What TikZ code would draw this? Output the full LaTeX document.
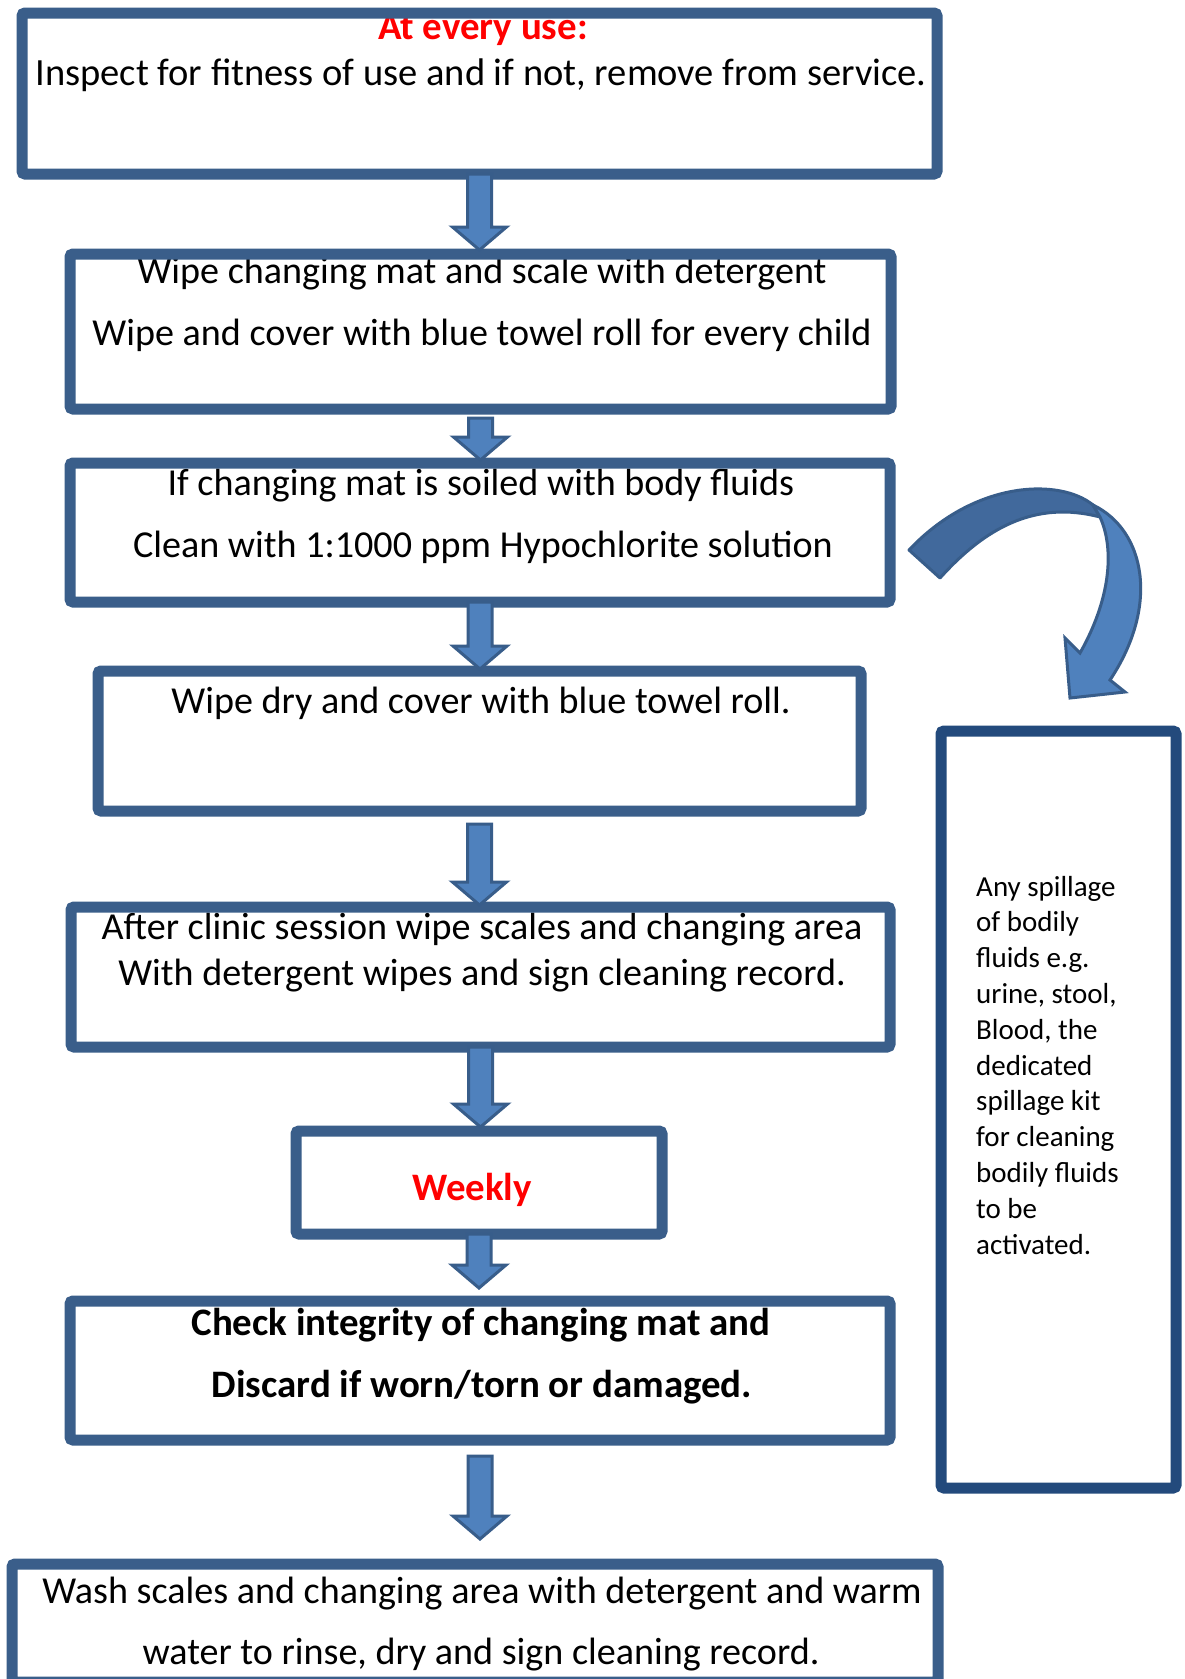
\documentclass[tikz,border=0pt]{standalone}
\usepackage{fontspec}
\setmainfont{Carlito}
\usetikzlibrary{calc}
\definecolor{boxcol}{HTML}{3A5E8A}
\definecolor{navy}{HTML}{234A7C}
\definecolor{arrfill}{HTML}{4F81BD}
\definecolor{arrdraw}{HTML}{385D8A}
\definecolor{arrdark}{HTML}{41699C}
\definecolor{txtred}{HTML}{FF0000}
\tikzset{
  flowbox/.style={draw=boxcol, line width=11pt, rounded corners=3pt, inner sep=0pt, outer sep=0pt, anchor=north west},
  sidebox/.style={flowbox, draw=navy},
  txt/.style={anchor=base, inner sep=0pt, font=\fontsize{38.1}{44}\selectfont},
  txtbold/.style={anchor=base, inner sep=0pt, font=\fontsize{38.9}{44}\selectfont\bfseries},
  txttop/.style={anchor=base, inner sep=0pt, font=\fontsize{38.5}{44}\selectfont},
  sidetxt/.style={anchor=base west, inner sep=0pt, font=\fontsize{29}{35}\selectfont},
  blockarrow/.style={fill=arrfill, draw=arrdraw, line width=3pt, line join=miter},
}
\newcommand\blockarr[4]{%
  \path[blockarrow] let \p1=(#1), \p2=(#2) in
    (\x1-12pt,\y1-#3) -- (\x1+12pt,\y1-#3) -- (\x1+12pt,\y2+#4+23pt) -- (\x1+27pt,\y2+#4+23pt)
    -- (\x1,\y2+#4) -- (\x1-27pt,\y2+#4+23pt) -- (\x1-12pt,\y2+#4+23pt) -- cycle;}
\begin{document}
\begin{tikzpicture}[x=1pt,y=1pt]
\useasboundingbox (0,0) rectangle (1184,-1679);
\fill[white] (0,0) rectangle (1184,-1679);
% texts
\node[txtbold, text=txtred] (t1a) at (483,-39) {At every use:};
\node[txttop] (t1b) at (481,-85) {Inspect for fitness of use and if not, remove from service.};
\node[txt] (t2a) at (482,-283) {Wipe changing mat and scale with detergent};
\node[txt] (t2b) at (482,-345) {Wipe and cover with blue towel roll for every child};
\node[txt] (t3a) at (481,-495) {If changing mat is soiled with body fluids};
\node[txt] (t3b) at (483,-557) {Clean with 1:1000 ppm Hypochlorite solution};
\node[txt] (t4) at (481,-713) {Wipe dry and cover with blue towel roll.};
\node[txt] (t5a) at (482,-939) {After clinic session wipe scales and changing area};
\node[txt] (t5b) at (482,-985) {With detergent wipes and sign cleaning record.};
\node[txtbold, text=txtred] (t6) at (472,-1200) {Weekly};
\node[txtbold] (t7a) at (481,-1335) {Check integrity of changing mat and};
\node[txtbold] (t7b) at (482,-1397) {Discard if worn/torn or damaged.};
\node[txt] (t8a) at (482,-1603) {Wash scales and changing area with detergent and warm};
\node[txt] (t8b) at (481,-1664) {water to rinse, dry and sign cleaning record.};
\foreach \t [count=\i from 0] in {Any spillage, of bodily, fluids e.g., {urine, stool,}, {Blood, the}, dedicated, spillage kit, for cleaning, bodily fluids, to be, activated.}
  \node[sidetxt] (s\i) at (976,-896-35.8*\i) {\t};
% boxes
\node[flowbox, minimum width=915, minimum height=161] (b1) at (22,-13) {};
\node[flowbox, minimum width=821, minimum height=155] (b2) at (70,-254) {};
\node[flowbox, minimum width=820, minimum height=139] (b3) at (70,-463) {};
\node[flowbox, minimum width=763, minimum height=140] (b4) at (98,-671) {};
\node[flowbox, minimum width=819, minimum height=140] (b5) at (71,-907) {};
\node[flowbox, minimum width=366, minimum height=103] (b6) at (296,-1131) {};
\node[flowbox, minimum width=820, minimum height=139] (b7) at (70,-1301) {};
\node[flowbox, minimum width=926, minimum height=118] (b8) at (12,-1564) {};
\node[sidebox, minimum width=235, minimum height=757] (side) at (941,-731) {};
% straight block arrows
\blockarr{b1.south}{b2.north}{0pt}{4pt}
\blockarr{b2.south}{b3.north}{9pt}{3pt}
\blockarr{b3.south}{b4.north}{0pt}{2pt}
\blockarr{b4.south}{b5.north}{13pt}{2pt}
\blockarr{b5.south}{b6.north}{0pt}{4pt}
\blockarr{b6.south}{b7.north}{0pt}{13pt}
\blockarr{b7.south}{b8.north}{16pt}{25pt}
% curved arrow from b3 towards side box
\path[fill=arrdark, draw=arrdraw, line width=3pt, line join=round]
  (909,-550) -- (940,-578) .. controls (985,-528) and (1035,-500) .. (1100,-517)
  -- (1093,-505) .. controls (1060,-478) and (975,-480) .. (909,-550) -- cycle;
\path[fill=arrfill, draw=arrdraw, line width=3pt, line join=miter]
  (1093,-505) .. controls (1145,-530) and (1160,-605) .. (1110,-680)
  -- (1125,-692) -- (1070,-698) -- (1065,-638) -- (1080,-653)
  .. controls (1110,-600) and (1115,-550) .. (1100,-517) -- cycle;
\end{tikzpicture}
\end{document}
